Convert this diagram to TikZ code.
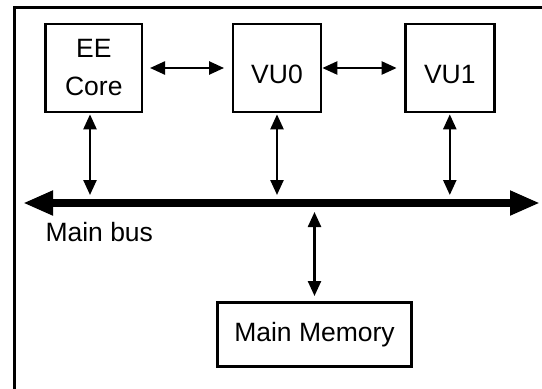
\documentclass[tikz,border=0pt]{standalone}
\usepackage{fontspec}
\setmainfont{Liberation Sans}
\usetikzlibrary{arrows.meta}

\begin{document}
\begin{tikzpicture}[
  x=1pt, y=-1pt,
  unit/.style={draw, line width=2.7pt, font=\fontsize{26.5}{38}\selectfont, inner sep=0pt, minimum height=88pt, align=center},
  link/.style={line width=2.4pt, {Triangle[length=15pt,width=13pt]}-{Triangle[length=15pt,width=13pt]}},
  bus/.style={line width=8pt, {Triangle[length=30pt,width=23pt]}-{Triangle[length=30pt,width=23pt]}},
  tag/.style={font=\fontsize{26.5}{38}\selectfont, inner sep=0pt}
]
  \useasboundingbox (0,0) rectangle (542,389);
  \def\busy{203}

  % frame, cut at right and bottom
  \draw[line width=2.7pt] (542,7.5) -- (14.7,7.5) -- (14.7,389);

  \node[unit, minimum width=96.5pt] (ee) at (93.8,68) {EE\\Core};
  \node[unit, minimum width=88pt, text height=31pt] (vu0) at (277,68) {VU0};
  \node[unit, minimum width=89pt, text height=31pt] (vu1) at (449.8,68) {VU1};
  \node[unit, minimum width=194.3pt, minimum height=64.3pt] (mem) at (314.5,334.5) {Main Memory};

  % main bus
  \coordinate (busl) at (23,\busy);
  \coordinate (busr) at (540,\busy);
  \draw[bus] (busl) -- (busr);
  \node[tag, anchor=base west] (buslbl) at (45.3,241) {Main bus};

  \draw[link, shorten <=6.6pt, shorten >=7.6pt] (ee) -- (vu0);
  \draw[link, shorten >=7.3pt] (vu0) -- (vu1);

  \draw[link, shorten <=1pt, shorten >=8pt] ([xshift=-3.8pt]ee.south) -- ([xshift=-3.8pt]ee.south |- busl);
  \foreach \u in {vu0, vu1} {
    \draw[link, shorten <=1pt, shorten >=8pt] (\u.south) -- (\u.south |- busl);
  }
  \draw[link, shorten <=9pt, shorten >=5pt] (mem.north |- busl) -- (mem.north);
\end{tikzpicture}
\end{document}
